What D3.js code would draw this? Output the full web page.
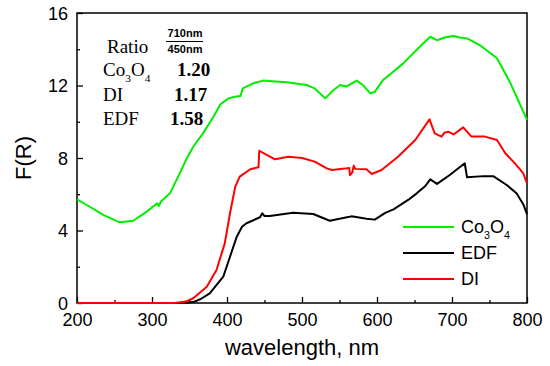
<!DOCTYPE html>
<html lang="en">
<head>
<meta charset="utf-8">
<title>F(R) vs wavelength</title>
<script src="https://d3js.org/d3.v7.min.js"></script>
<style>
  body { margin: 0; background: #fff; }
  svg text { font-family: "Liberation Sans", Arial, sans-serif; fill: #000; }
  .serif { font-family: "Liberation Serif", "Times New Roman", serif; }
</style>
</head>
<body>
<div id="chart"></div>
<script>
// ---- data ----
const xTicks = [200, 300, 400, 500, 600, 700, 800];
const yTicks = [0, 4, 8, 12, 16];

const co3o4Wl = [200, 217, 235, 257, 275, 293, 307, 309, 312, 324, 337, 346, 355, 368, 382, 391, 402, 410, 418, 421, 435, 448, 465, 480, 506, 517, 531, 542, 551, 559, 573, 581, 591, 597, 608, 620, 635, 657, 671, 680, 690, 702, 710, 720, 737, 760, 777, 788, 800];
const co3o4F  = [5.72, 5.31, 4.86, 4.45, 4.54, 5.04, 5.5, 5.35, 5.6, 6.05, 7.15, 7.95, 8.62, 9.36, 10.28, 10.95, 11.29, 11.38, 11.42, 11.84, 12.12, 12.27, 12.22, 12.18, 12.03, 11.84, 11.29, 11.75, 12.03, 11.94, 12.27, 12.03, 11.57, 11.65, 12.3, 12.7, 13.22, 14.14, 14.69, 14.5, 14.65, 14.73, 14.65, 14.6, 14.23, 13.5, 12.21, 11.2, 10.1];

const edfWl = [200, 340, 355, 365, 377, 395, 404, 413, 420, 426, 444, 447, 450, 457, 488, 515, 537, 560, 566, 586, 597, 611, 622, 642, 653, 664, 671, 680, 697, 717, 720, 742, 755, 773, 786, 795, 800];
const edfF  = [0, 0, 0.05, 0.22, 0.53, 1.45, 2.55, 3.66, 4.21, 4.4, 4.73, 4.95, 4.8, 4.8, 4.98, 4.91, 4.54, 4.73, 4.78, 4.65, 4.6, 4.97, 5.17, 5.7, 6.05, 6.44, 6.82, 6.57, 7.06, 7.71, 6.94, 7.0, 7.0, 6.51, 6.05, 5.45, 4.9];

const diWl = [200, 330, 345, 355, 373, 386, 397, 404, 411, 417, 431, 442, 443, 453, 464, 482, 500, 517, 533, 540, 560, 563, 564, 567, 569, 571, 586, 593, 606, 628, 651, 670, 677, 686, 690, 695, 702, 715, 726, 744, 760, 771, 784, 795, 800];
const diF  = [0, 0, 0.08, 0.26, 0.9, 1.82, 3.29, 4.95, 6.42, 6.97, 7.38, 7.49, 8.4, 8.17, 7.93, 8.07, 8.0, 7.8, 7.43, 7.34, 7.43, 7.45, 7.05, 7.2, 7.58, 7.4, 7.38, 7.12, 7.34, 8.07, 8.99, 10.13, 9.36, 9.18, 9.4, 9.45, 9.3, 9.69, 9.18, 9.18, 8.99, 8.26, 7.7, 7.15, 6.6];

const ratioNames  = ["Co3O4", "DI", "EDF"];
const ratioValues = ["1.20", "1.17", "1.58"];

const seriesNames  = ["Co3O4", "EDF", "DI"];
const seriesColors = ["#00ee00", "#000000", "#ff0000"];

// ---- layout ----
const width = 550, height = 366;
const margin = {top: 13, right: 23, bottom: 63, left: 77};

const svg = d3.select("#chart").append("svg")
    .attr("width", width)
    .attr("height", height);

const x = d3.scaleLinear().domain([200, 800]).range([margin.left, width - margin.right]);
const y = d3.scaleLinear().domain([0, 16]).range([height - margin.bottom, margin.top]);

// axes, ticks pointing inward
const xAxis = svg.append("g")
    .attr("transform", `translate(0,${y(0)})`)
    .call(d3.axisBottom(x).tickValues(xTicks).tickSizeInner(-6).tickSizeOuter(0).tickPadding(10));
const yAxis = svg.append("g")
    .attr("transform", `translate(${x(200)},0)`)
    .call(d3.axisLeft(y).tickValues(yTicks).tickSizeInner(-6).tickSizeOuter(0).tickPadding(9));

// minor ticks
svg.append("g")
    .attr("transform", `translate(0,${y(0)})`)
    .call(d3.axisBottom(x).tickValues([250, 350, 450, 550, 650, 750]).tickSize(-3).tickFormat(""));
svg.append("g")
    .attr("transform", `translate(${x(200)},0)`)
    .call(d3.axisLeft(y).tickValues([2, 6, 10, 14]).tickSize(-3).tickFormat(""));

svg.selectAll(".domain").remove();
svg.selectAll(".tick line").attr("stroke", "#000").attr("stroke-width", 1.3);
xAxis.selectAll("text").attr("font-size", 18).attr("dy", "0.71em").attr("y", 10);
yAxis.selectAll("text").attr("font-size", 18).attr("dy", "0.34em");

// frame
svg.append("rect")
    .attr("x", x(200)).attr("y", y(16))
    .attr("width", x(800) - x(200)).attr("height", y(0) - y(16))
    .attr("fill", "none").attr("stroke", "#000").attr("stroke-width", 1.5);

// curves
const line = d3.line().x(d => x(d[0])).y(d => y(d[1]));
const curves = [
  {wl: co3o4Wl, f: co3o4F, color: seriesColors[0]},
  {wl: edfWl, f: edfF, color: seriesColors[1]},
  {wl: diWl, f: diF, color: seriesColors[2]}
];
svg.append("g").selectAll("path")
    .data(curves)
    .join("path")
    .attr("fill", "none")
    .attr("stroke", d => d.color)
    .attr("stroke-width", 2)
    .attr("stroke-linejoin", "round")
    .attr("d", d => line(d3.zip(d.wl, d.f)));

// axis titles
svg.append("text")
    .attr("x", (x(200) + x(800)) / 2).attr("y", 355)
    .attr("text-anchor", "middle").attr("font-size", 22)
    .text("wavelength, nm");
svg.append("text")
    .attr("transform", `translate(31,${(y(0) + y(16)) / 2}) rotate(-90)`)
    .attr("text-anchor", "middle").attr("font-size", 22)
    .text("F(R)");

// Co3O4 with subscripts
function co3o4(sel, size) {
  sel.append("tspan").text("Co");
  sel.append("tspan").attr("font-size", size * 0.6).attr("dy", size * 0.3).text("3");
  sel.append("tspan").attr("dy", -size * 0.3).text("O");
  sel.append("tspan").attr("font-size", size * 0.6).attr("dy", size * 0.3).text("4");
}

// ratio table
const ann = svg.append("g");
ann.append("text").attr("class", "serif").attr("x", 107).attr("y", 53).attr("font-size", 19).text("Ratio");
ann.append("text").attr("x", 185).attr("y", 37).attr("text-anchor", "middle")
    .attr("font-size", 11).attr("font-weight", "bold").text("710nm");
ann.append("line").attr("x1", 166).attr("x2", 203).attr("y1", 41.5).attr("y2", 41.5)
    .attr("stroke", "#000").attr("stroke-width", 1);
ann.append("text").attr("x", 185).attr("y", 53).attr("text-anchor", "middle")
    .attr("font-size", 11).attr("font-weight", "bold").text("450nm");

const rowY = [76, 101, 125];
const valX = [177, 174, 170];
ratioNames.forEach((n, i) => {
  const t = ann.append("text").attr("class", "serif").attr("x", 103).attr("y", rowY[i]).attr("font-size", 19);
  if (n === "Co3O4") co3o4(t, 19); else t.text(n);
  ann.append("text").attr("class", "serif").attr("x", valX[i]).attr("y", rowY[i])
      .attr("font-size", 19).attr("font-weight", "bold").text(ratioValues[i]);
});

// legend
const legY = [227, 253, 279];
const leg = svg.append("g");
seriesNames.forEach((n, i) => {
  leg.append("line").attr("x1", 403).attr("x2", 454).attr("y1", legY[i]).attr("y2", legY[i])
      .attr("stroke", seriesColors[i]).attr("stroke-width", 2);
  const t = leg.append("text").attr("x", 461).attr("y", legY[i]).attr("dy", "0.35em").attr("font-size", 18);
  if (n === "Co3O4") co3o4(t, 18); else t.text(n);
});
</script>
</body>
</html>
